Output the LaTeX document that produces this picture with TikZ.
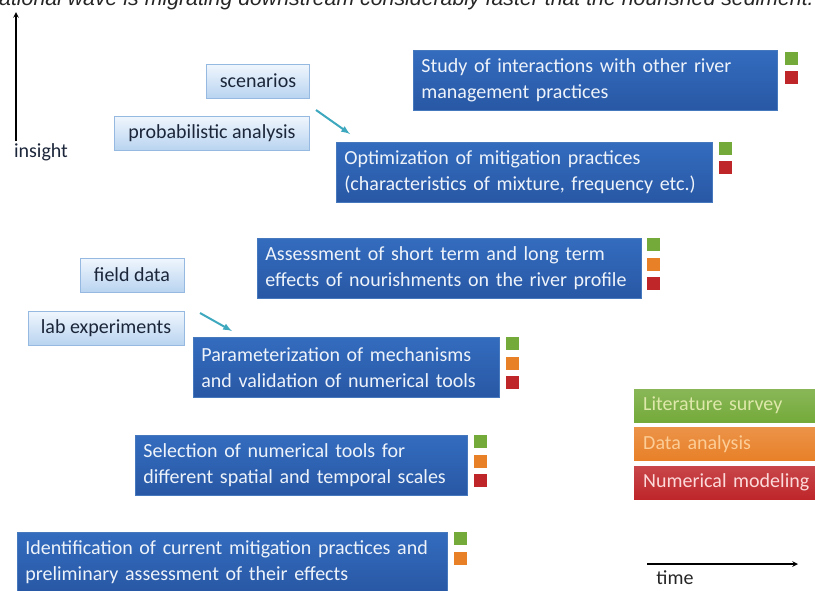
\documentclass[tikz,border=0pt]{standalone}
\usepackage{fontspec}
\setmainfont{Carlito}
\newfontfamily\capfont{Liberation Sans}
\usetikzlibrary{positioning}
\definecolor{tasktop}{RGB}{52,108,190}
\definecolor{taskbot}{RGB}{40,88,165}
\definecolor{taskedge}{RGB}{70,120,190}
\definecolor{tasktext}{RGB}{238,243,250}
\definecolor{intop}{RGB}{240,246,253}
\definecolor{inbot}{RGB}{185,212,240}
\definecolor{inedge}{RGB}{150,185,225}
\definecolor{intext}{RGB}{28,38,58}
\definecolor{litgreen}{RGB}{116,170,58}
\definecolor{dataorange}{RGB}{232,128,40}
\definecolor{numred}{RGB}{190,38,42}
\definecolor{arrowteal}{RGB}{62,168,190}
\begin{document}
\begin{tikzpicture}[x=1pt, y=-1pt, node distance=6pt,
    every node/.style={font=\fontsize{20}{26}\selectfont},
    task/.style={draw=taskedge, line width=0.8pt, top color=tasktop, bottom color=taskbot,
        text=tasktext, anchor=north west, align=left, inner xsep=8pt, inner ysep=0pt, minimum height=60pt,
        execute at begin node={\hyphenpenalty=10000}},
    input/.style={draw=inedge, line width=0.8pt, top color=intop, bottom color=inbot,
        text=intext, minimum height=34pt, inner sep=0pt},
    sq/.style={minimum size=13pt, inner sep=0pt},
    sqg/.style={sq, fill=litgreen},
    sqo/.style={sq, fill=dataorange},
    sqr/.style={sq, fill=numred},
    legend/.style={anchor=north west, minimum height=33pt, text width=172pt, inner xsep=9pt, inner ysep=0pt},
    feed/.style={arrowteal, line width=2pt, -latex}
    ]
    \useasboundingbox (0,0) rectangle (815,590);
    \begin{scope}
        \clip (0,0) rectangle (815,590);
        % caption line cut off at the top
        \node[font=\capfont\itshape\fontsize{21.3}{24}\selectfont, anchor=base west, inner sep=0pt, text=black!85]
            (cap) at (-1,5) {ational wave is migrating downstream considerably faster that the nourished sediment.};

        % insight axis
        \node[text=intext] (insight) at (41,152) {insight};
        \coordinate (ins0) at (16,141);
        \coordinate (ins1) at (16,12);
        \draw[line width=1.5pt, -stealth] (ins0) -- (ins1);

        % tasks
        \node[task, text width=348pt] (study) at (413,50) {Study of interactions with other river\\management practices};
        \node[task, text width=360pt] (optim) at (336,142) {Optimization of mitigation practices\\(characteristics of mixture, frequency etc.)};
        \node[task, text width=368pt] (assess) at (257,238) {Assessment of short term and long term\\effects of nourishments on the river profile};
        \node[task, text width=290pt] (param) at (193,337) {Parameterization of mechanisms\\and validation of numerical tools};
        \node[task, text width=316pt] (select) at (135,435) {Selection of numerical tools for\\different spatial and temporal scales};
        \node[task, text width=414pt] (ident) at (17,532) {Identification of current mitigation practices and\\preliminary assessment of their effects};

        % squares next to the tasks
        \node[sqg, anchor=north west] (studyg) at ([xshift=7pt,yshift=-2pt]study.north east) {};
        \node[sqr, below=5pt of studyg] (studyr) {};
        \node[sqg, anchor=north west] (optimg) at ([xshift=6pt]optim.north east) {};
        \node[sqr, below=5pt of optimg] (optimr) {};
        \node[sqg, anchor=north west] (assessg) at ([xshift=5pt]assess.north east) {};
        \node[sqo, below=of assessg] (assesso) {};
        \node[sqr, below=of assesso] (assessr) {};
        \node[sqg, anchor=north west] (paramg) at ([xshift=6pt]param.north east) {};
        \node[sqo, below=of paramg] (paramo) {};
        \node[sqr, below=of paramo] (paramr) {};
        \node[sqg, anchor=north west] (selectg) at ([xshift=6pt]select.north east) {};
        \node[sqo, below=of selectg] (selecto) {};
        \node[sqr, below=of selecto] (selectr) {};
        \node[sqg, anchor=north west] (identg) at ([xshift=6pt]ident.north east) {};
        \node[sqo, below=of identg] (idento) {};

        % inputs
        \node[input, minimum width=103pt] (scen) at (258,81) {scenarios};
        \node[input, minimum width=195pt] (prob) at (212,133) {probabilistic analysis};
        \node[input, minimum width=104pt] (field) at (132,275) {field data};
        \node[input, minimum width=156pt] (lab) at (106,328) {lab experiments};
        \coordinate (f1s) at (316,110);
        \coordinate (f1e) at (350,134);
        \coordinate (f2s) at (200,313);
        \coordinate (f2e) at (232,331);
        \draw[feed] (f1s) -- (f1e);
        \draw[feed] (f2s) -- (f2e);

        % legend
        \node[legend, top color=litgreen!85!white, bottom color=litgreen, text={rgb,255:red,222;green,232;blue,170}] (leglit) at (634,389) {Literature survey};
        \node[legend, top color=dataorange!85!white, bottom color=dataorange, text={rgb,255:red,252;green,205;blue,150}] (legdata) at (634,427) {Data analysis};
        \node[legend, top color=numred!85!white, bottom color=numred, text={rgb,255:red,252;green,218;blue,218}] (legnum) at (634,466) {Numerical modeling};

        % time axis
        \coordinate (t0) at (647,564);
        \coordinate (t1) at (798,564);
        \draw[line width=1.5pt, -stealth] (t0) -- (t1);
        \node[text=black!85, inner sep=1pt] (time) at (675,578) {time};
    \end{scope}
\end{tikzpicture}
\end{document}
